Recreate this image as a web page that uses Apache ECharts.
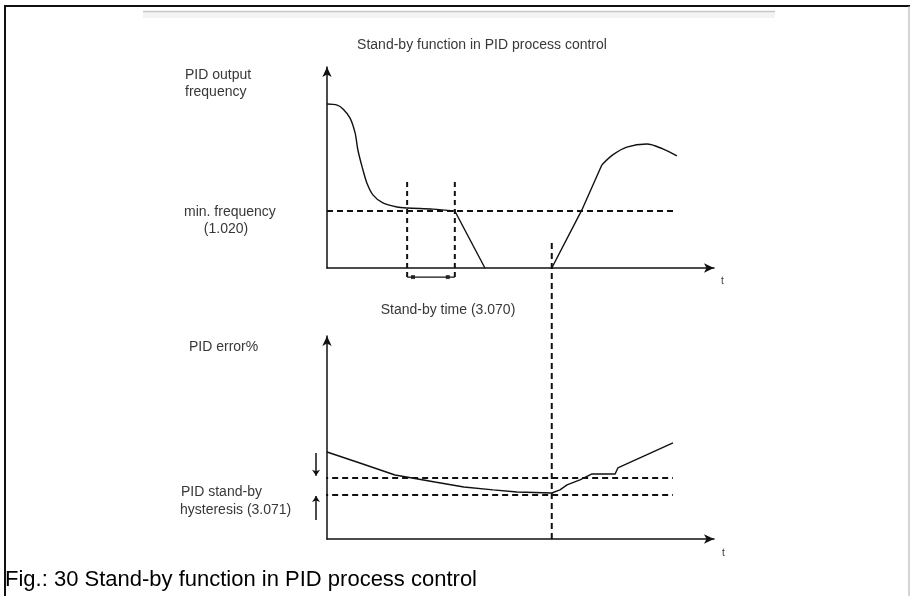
<!DOCTYPE html>
<html><head><meta charset="utf-8">
<script src="https://cdn.jsdelivr.net/npm/echarts@6/dist/echarts.min.js"></script>
<style>html,body{margin:0;padding:0;background:#fff}#c{width:910px;height:596px}</style>
</head><body><div id="c"></div>
<script>
// ---- data (time in arbitrary units, values in % of axis height) ----
const freqSettleTime = [0, 2.6, 4.1, 5.9, 7.2, 7.9, 9.0, 10.2, 11.8, 14.3, 17.9, 20.5, 27.1, 32.7];
const freqSettleVal  = [79.6, 79.1, 77.2, 72.8, 65.5, 57.3, 49.0, 41.3, 35.4, 31.6, 29.6, 29.1, 28.6, 27.7];
const freqStopTime   = [32.7, 40.4];
const freqStopVal    = [27.7, 0];
const freqRampTime   = [57.5, 65.2, 70.3];
const freqRampVal    = [0, 28.2, 50];
const freqPeakTime   = [70.3, 73.1, 76.7, 81.8, 85.9, 89.5];
const freqPeakVal    = [50, 54.9, 58.7, 60.2, 57.8, 54.4];
const minFrequency = 27.7;
const standbyStart = 20.5, standbyEnd = 32.7, wakeTime = 57.5, lineEnd = 89.5;

const errTime = [0, 8.4, 17.4, 27.6, 35.0, 42.5, 48.6, 57.5, 59.6, 61.4, 64.7, 67.8, 73.7, 74.4, 88.5];
const errVal  = [42, 36.7, 30.9, 27.5, 25.1, 23.7, 22.7, 22.2, 23.7, 26.1, 28.5, 31.4, 31.4, 34.3, 46.4];
const hystUpper = 29.5, hystLower = 21.3;

const labels = {
  title: 'Stand-by function in PID process control',
  outFreq: ['PID output', 'frequency'],
  minFreq: ['min. frequency', '(1.020)'],
  standbyTime: 'Stand-by time (3.070)',
  error: 'PID error%',
  hyst: ['PID stand-by', 'hysteresis (3.071)'],
  caption: 'Fig.: 30 Stand-by function in PID process control'
};

const zip = (a, b) => a.map((v, i) => [v, b[i]]);
const ink = '#111';
const txt = '#383838';
const lab = '14px "Liberation Sans", Arial, sans-serif';

function axisX(gi){return {type:'value', gridIndex:gi, min:0, max:99, splitLine:{show:false}, axisTick:{show:false}, axisLabel:{show:false},
  axisLine:{lineStyle:{color:ink,width:1.5}, symbol:['none','arrow'], symbolSize:[7,10]}};}
function axisY(gi,max){return {type:'value', gridIndex:gi, min:0, max:max, splitLine:{show:false}, axisTick:{show:false}, axisLabel:{show:false},
  axisLine:{onZero:false, lineStyle:{color:ink,width:1.5}, symbol:['none','arrow'], symbolSize:[7,10]}};}

function solid(gi, data, w, sm){return {type:'line', xAxisIndex:gi, yAxisIndex:gi, data:data, showSymbol:false, symbol:'none', clip:false,
  smooth:sm||false, lineStyle:{color:ink, width:w||1.4}, silent:true};}
function dashed(gi, data, dash){return {type:'line', xAxisIndex:gi, yAxisIndex:gi, data:data, showSymbol:false, symbol:'none', clip:false,
  lineStyle:{color:ink, width:2, type:dash||[6,4]}, silent:true};}

function text(x, y, s, opt){opt=opt||{};return {type:'text', x:x, y:y, silent:true,
  style:{text:s, font:opt.font||lab, fill:opt.fill||txt, align:opt.align||'left', verticalAlign:'middle'}};}

const chart = echarts.init(document.getElementById('c'));
chart.setOption({
  animation:false,
  backgroundColor:'#fff',
  grid:[{left:327, top:67, width:387, height:201},{left:327, top:336, width:387, height:203}],
  xAxis:[axisX(0), axisX(1)],
  yAxis:[axisY(0,97.6), axisY(1,98)],
  series:[
    solid(0, zip(freqSettleTime, freqSettleVal), 1.4, 0.3),
    solid(0, zip(freqStopTime, freqStopVal)),
    solid(0, zip(freqRampTime, freqRampVal)),
    solid(0, zip(freqPeakTime, freqPeakVal), 1.4, 0.35),
    dashed(0, [[0,minFrequency],[lineEnd,minFrequency]]),
    dashed(0, [[standbyStart,41.7],[standbyStart,-4.4]], [5,4]),
    dashed(0, [[standbyEnd,41.7],[standbyEnd,-4.4]], [5,4]),
    solid(0, [[standbyStart,-4.4],[standbyEnd,-4.4]], 1.2),
    {type:'scatter', xAxisIndex:0, yAxisIndex:0, data:[[22.0,-4.4],[30.9,-4.4]], symbol:'rect', symbolSize:4, itemStyle:{color:ink}, clip:false, silent:true},
    solid(1, zip(errTime, errVal)),
    dashed(1, [[-3.8,hystUpper],[88.5,hystUpper]]),
    dashed(1, [[-3.8,hystLower],[88.5,hystLower]]),
    dashed(1, [[wakeTime,0],[wakeTime,143.5]], [6,4]),
    {type:'lines', coordinateSystem:'cartesian2d', xAxisIndex:1, yAxisIndex:1, clip:false, silent:true,
      symbol:['none','arrow'], symbolSize:6,
      lineStyle:{color:ink, width:1.5, opacity:1},
      data:[{coords:[[-2.8,41.5],[-2.8,30.5]]},{coords:[[-2.8,9.2],[-2.8,20.8]]}]}
  ],
  graphic:[
    {type:'line', silent:true, shape:{x1:5,y1:6,x2:910,y2:6}, style:{stroke:'#111', lineWidth:2}},
    {type:'line', silent:true, shape:{x1:5,y1:5,x2:5,y2:596}, style:{stroke:'#111', lineWidth:2}},
    {type:'line', silent:true, shape:{x1:909,y1:6,x2:909,y2:596}, style:{stroke:'#aaa', lineWidth:1}},
    {type:'rect', silent:true, shape:{x:143,y:12,width:632,height:6}, style:{fill:'#f3f3f3'}},
    {type:'line', silent:true, shape:{x1:143,y1:11.5,x2:775,y2:11.5}, style:{stroke:'#c8c8c8', lineWidth:1.5}},
    text(482, 45, labels.title, {align:'center'}),
    text(185, 75, labels.outFreq[0]),
    text(185, 92, labels.outFreq[1]),
    text(184, 212, labels.minFreq[0]),
    text(226, 229, labels.minFreq[1], {align:'center'}),
    text(721, 281, 't', {font:'10px "Liberation Sans", Arial, sans-serif'}),
    text(448, 310, labels.standbyTime, {align:'center'}),
    text(189, 347, labels.error),
    text(181, 492, labels.hyst[0]),
    text(180, 510, labels.hyst[1]),
    text(722, 553, 't', {font:'10px "Liberation Sans", Arial, sans-serif'}),
    text(5, 580, labels.caption, {font:'22px "Liberation Sans", Arial, sans-serif', fill:'#000'})
  ]
});
</script></body></html>
